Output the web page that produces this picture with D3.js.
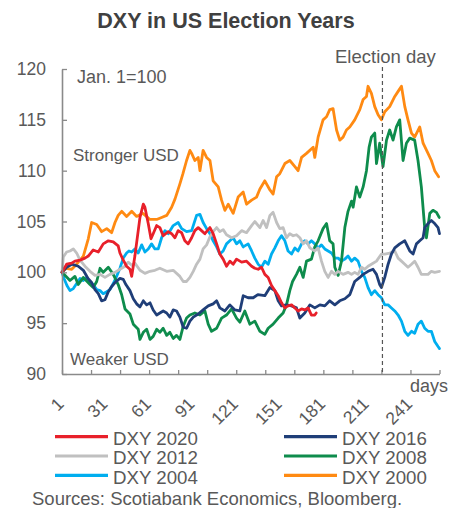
<!DOCTYPE html>
<html><head><meta charset="utf-8">
<script src="https://cdn.jsdelivr.net/npm/d3@7"></script>
<style>
html,body{margin:0;padding:0;background:#fff;}
svg{display:block;font-family:"Liberation Sans",Arial,sans-serif;}
</style></head>
<body><svg id="c" width="452" height="508"></svg>
<script>
// ---- data: [day of year index, DXY rebased to Jan.1 = 100] ----
const dxy2020 = [[1,100],[4.2,100.8],[7.7,100.9],[9.9,101.1],[13.4,101.2],[16.8,101.4],[19.1,101.6],[22.5,102.2],[26,102],[29.4,102.8],[32.9,103.1],[36.3,103],[39.7,102.6],[40.9,101.9],[43.2,101.2],[45.5,100.6],[47.8,100.3],[49,99.6],[51.2,101.6],[54.7,105.4],[57,106.7],[58.1,106.4],[60.4,104.8],[62.3,103.3],[63.8,103.8],[66.2,104.6],[68.4,104.4],[70.7,103.6],[74.2,104],[76.5,103.8],[78.8,103.4],[81,104.1],[83.4,103.9],[85.6,103.1],[87.9,102.8],[90.3,103.4],[92.5,104.1],[94.8,104.4],[97.1,104.1],[99.4,103.8],[102.9,104.4],[105.1,103.8],[107.5,102.8],[109.7,101.8],[112,101.3],[114.3,100.6],[116.6,101.1],[118.9,100.8],[121.2,101.3],[124.7,101],[128.1,101.1],[131.6,100.6],[133.8,100.4],[136.1,100.3],[138.4,100.5],[140.7,99.8],[143,99.5],[145.3,98.7],[147.6,98.2],[149.9,97.7],[152.2,97],[154.5,96.5],[156.7,96.7],[159.1,96.8],[161.4,96.5],[163.6,96.2],[166,96.4],[168.2,96.3],[170.5,96.5],[172.8,95.8],[175.1,95.8],[176.1,96]];
const dxy2016 = [[1,100],[4.2,100.5],[7.7,100.8],[12.2,100.6],[15.7,100.2],[18.9,99.4],[21.4,99],[23.7,98.3],[26,97.9],[28.3,97.2],[30.6,97.3],[32.9,98.1],[35.2,98.6],[37.5,99],[40.9,99.4],[43.2,99.3],[45,98.8],[47.8,98.2],[50.1,97.4],[52.4,96.9],[54.7,96.6],[57,97.2],[59.3,96.8],[61.6,97],[63.8,96.3],[66.2,95.8],[68.4,96],[70.7,96.2],[73.1,96],[75.3,95.6],[77.6,96.3],[79.9,96.2],[82.2,95.6],[84.5,94.6],[86.8,94.5],[89.1,95.2],[91.4,95.6],[94.8,95.9],[98.2,96.3],[101.7,96.7],[105.1,96.9],[107.5,97.2],[109.7,96.5],[113.2,96.2],[116.6,96.8],[120.1,96.3],[123.5,96.2],[125.8,97.7],[129.2,97.5],[132.7,97.5],[135.9,97.8],[140.7,97.7],[144.2,98.5],[147.6,98.2],[149.9,97.2],[152.2,96.7],[155.6,96.8],[159.1,96.7],[162.5,96.5],[164.8,95.5],[168.2,96],[171.7,96.8],[175.1,96.5],[178.6,96.8],[182,96.7],[185.4,97.2],[188.9,96.8],[192.3,97.2],[195.8,97.4],[199.2,97.8],[202.6,99.1],[206.1,99.5],[208.4,99.8],[211.8,100.1],[215.2,100.3],[217.6,99.8],[219.8,98.8],[221,98.5],[223.3,99.5],[225.6,100.8],[227.9,101.8],[230.2,102.4],[233.6,102.8],[237.1,103.1],[240.5,102.1],[242.8,101.8],[245.1,102.8],[247.4,103.1],[249.7,103.4],[250.8,104.4],[253.1,104.8],[255.4,105.1],[257.7,104.8],[260,104.4],[261,103.8]];
const dxy2012 = [[1,100],[1.9,101.5],[4.2,102],[6.5,102.1],[8.8,102.3],[11.1,101.9],[13.4,101.2],[16.8,100.6],[20.3,100.1],[23.7,99.7],[27.2,99.8],[30.6,99.5],[34,99.8],[37.5,100],[40.9,100.3],[44.4,100.6],[46.6,101],[49,100.7],[51.2,100.9],[54.7,100.2],[58.1,99.9],[61.6,100.1],[65,100.2],[68.4,100.4],[73.1,100.1],[77.6,100.2],[82.2,99.6],[84.5,99.1],[86.8,99.1],[89.1,99.5],[91.4,100.1],[93.7,100.8],[96,101.3],[98.2,102.3],[100.6,102.7],[102.9,103.5],[105.1,104],[107.5,104.4],[109.7,104],[112,104.2],[114.3,103.7],[117.8,103.4],[121.2,103.6],[124.7,104.1],[128.1,103.9],[131.6,104.6],[133.8,105],[137.3,104.4],[139.5,105.1],[141.9,104.4],[144.2,105.6],[146.4,105.9],[148.8,104.9],[151,104.3],[153.3,104.4],[155.6,103.4],[157.9,103.8],[160.2,103.6],[162.5,103.7],[164.8,103.4],[167.1,102.8],[169.4,103.1],[171.7,102.4],[175.1,102.1],[177.4,102.4],[179.7,101.1],[182,100.1],[184.3,99.5],[186.6,100.1],[188.9,99.8],[191.2,100.1],[194.6,99.8],[198,100],[200.4,99.8],[202.6,100],[204.9,99.8],[207.3,100.5],[209.5,100.3],[211.8,100.6],[214.1,100.8],[217.6,101.1],[221,101.8],[223.3,101.8],[226.7,101.9],[230.2,102.1],[232.5,101.4],[234.8,101.1],[237.1,100.8],[239.3,100.5],[241.7,100.8],[243.9,101.1],[246.2,100.5],[248.5,99.8],[250.8,99.8],[253.1,99.8],[255.4,100.1],[257.7,100],[261,100.1]];
const dxy2008 = [[1,100],[6.5,99.2],[9.9,99.6],[12.2,98.8],[15.7,99.5],[20.3,98.8],[22.5,98.5],[24.9,99.1],[27.2,100.4],[29.4,100],[32.9,100.5],[36.3,99.8],[39.7,98.8],[42.1,97.8],[44.4,96.4],[47.8,95.9],[50.1,94.9],[53.5,94.4],[54.7,93.4],[57,94.1],[59.3,94.4],[61.6,93.4],[63.8,93.7],[66.2,94.4],[68.4,94.1],[70.7,94.5],[73.1,93.8],[75.3,94.1],[77.6,93.5],[79.9,93.8],[82.2,93.4],[84.5,94.7],[86.8,95.5],[89.1,95.8],[92.5,96],[96,95.8],[99.4,96.2],[101.7,94.9],[104,94.2],[107.5,94.5],[110.9,95.5],[114.3,95.8],[117.8,96.4],[121.2,95.5],[123.5,95.1],[126.9,96.2],[130.4,94.9],[133.8,95.2],[137.3,94.2],[140.7,93.9],[143,94.5],[146.4,94.9],[149.9,95.5],[153.3,96],[155.6,96.8],[157.9,98.2],[159.8,99.1],[162.5,99.8],[164.8,100.5],[167.1,99.5],[169.4,101.1],[172.8,101.3],[175.1,102.5],[177.4,103.1],[180.8,104.3],[183.2,104.8],[185.4,103.1],[187.7,102.8],[188.9,100.5],[191.2,99.7],[193.5,101.1],[195.8,104.4],[198,106],[200.4,107],[201.5,106.4],[203.8,108.4],[206.1,107.4],[208.4,108.4],[210.7,110],[212.5,112.3],[214.1,113.3],[216.4,113.7],[217.6,110.7],[219.8,112.7],[222.1,110.4],[224.5,113],[226.7,114],[229,113],[231.3,114.3],[233.6,115],[235.9,111],[238.2,112.7],[240.5,113.2],[243.9,113],[246.2,111],[248.5,108.4],[250.8,104.4],[252,103.4],[254.3,105.8],[256.5,106.1],[258.9,105.9],[260.8,105.4]];
const dxy2004 = [[1,100],[2.4,99.4],[4.4,98.7],[6.5,98.2],[8.8,98.4],[11.1,98.9],[13.4,99.4],[15.7,99.2],[18,99.5],[20.3,99],[22.5,98.8],[24.9,98.3],[27.2,98.2],[29.4,97.9],[31.8,98.1],[34,98.3],[36.3,98.9],[38.6,99.6],[40.9,100.4],[43.2,101.4],[45.5,101.9],[47.1,102.1],[49,102],[51.2,102.3],[53.5,101.9],[55.9,102.7],[58.1,102],[60.4,102.3],[62.7,102.8],[65,102.3],[67.3,102.3],[69.6,103.4],[71.9,104.1],[74.2,103.8],[77.6,104.6],[81,104.9],[83.4,104.3],[86.8,104],[90.3,104.1],[93.7,105.6],[96,105.7],[98.2,104.9],[100.6,104.3],[102.9,103.8],[105.1,103.1],[107.5,102.5],[109.7,101.8],[112,102.1],[114.3,102.8],[116.6,103.1],[118.9,103.4],[121.2,102.8],[123.5,103.1],[125.8,102.5],[129.2,102.8],[131.6,102.1],[133.8,101.4],[136.1,100.8],[138.4,100.5],[140.7,101.1],[143,100.8],[145.3,101.8],[147.6,102.4],[149.9,103.1],[152.2,103.6],[154.5,103.1],[156.7,102.1],[159.1,101.8],[161.4,102.4],[163.6,102.1],[166,102.8],[168.2,103.1],[170.5,102.8],[172.8,103.1],[175.1,102.8],[177.4,102.4],[179.7,102.7],[182,102.3],[184.3,102.1],[186.6,101.9],[188.9,101.4],[191.2,101.4],[193.5,101.1],[195.8,101.3],[198,101.6],[200.4,101.1],[202.6,101.4],[204.9,101.1],[207.3,100.1],[209.5,99.5],[211.8,98.5],[214.1,97.8],[216.4,98.2],[218.7,97.8],[221,97.5],[223.3,96.8],[225.6,96.8],[227.9,96.5],[230.2,96.2],[232.5,95.8],[234.8,95.2],[237.1,94.2],[239.3,93.8],[241.7,94.2],[243.9,94],[246.2,94.9],[248.5,95.2],[250.8,94.5],[253.1,94.2],[255.4,94.2],[257.7,93.2],[260,92.7],[261,92.5]];
const dxy2000 = [[1,100],[3.8,100.4],[7.7,100.3],[11.1,100.8],[15.7,101.6],[19.1,103.3],[21.4,104.9],[24.9,104.7],[28.3,104],[31.8,104.3],[35.2,103.9],[37.5,104.9],[39.7,105.6],[42.1,106],[45.5,105.5],[49,106],[52.4,105.5],[56.7,105.8],[61.6,105.2],[66.2,105.2],[69.6,105.4],[73.1,105.6],[76.5,106.4],[78.8,107.2],[82.2,108.7],[84.3,109.7],[86.8,111],[89.1,112],[90.3,111.7],[92.5,111],[94.8,111.3],[96,110],[98.2,112],[100.6,111.3],[102.9,111],[105.1,109],[108.6,108.4],[110.9,107.1],[113.2,106.1],[115.5,106.7],[118.9,105.8],[122.3,107.4],[125.8,107.9],[128.1,106.7],[131.6,107.1],[135,107.4],[137.3,108.2],[140.7,109],[144.2,108.1],[146.4,107.7],[148.8,109.4],[151,109.7],[154.5,110.7],[157.9,111],[161.4,110.4],[163.6,110],[166,111.3],[169.4,111.7],[174,112.3],[175.1,111.3],[177.4,113.3],[180.8,115],[183.2,115.3],[185.4,116],[187.7,116.1],[190.1,114],[192.3,113],[194.6,113.3],[196.9,114],[199.2,114.3],[202.6,115],[206.1,116],[208.4,117],[210.7,117.3],[211.8,118.3],[214.1,117.6],[216.4,116.3],[218.7,115.5],[221,115],[223.3,115.8],[226.7,116.3],[230.2,117.3],[232.5,117.8],[234.8,118.3],[237.1,116.3],[239.3,115],[241.7,113.7],[243.9,113.3],[247.4,114.3],[249.7,112.7],[253.1,111.7],[255.4,111],[257.7,110],[260.4,109.4]];

const seriesNames = ["DXY 2020","DXY 2016","DXY 2012","DXY 2008","DXY 2004","DXY 2000"];
const seriesData  = [dxy2020, dxy2016, dxy2012, dxy2008, dxy2004, dxy2000];
const seriesColors = ["#e8202a","#1f3e78","#c0c0c0","#0e8c4c","#00aeef","#ff8a12"];
const yTicks = [90,95,100,105,110,115,120];
const xTickMarks = [1,21,41,61,81,101,121,141,161,181,201,221,241,261];
const xTickLabels = [1,31,61,91,121,151,181,211,241];
const electionDay = 221.7;

// ---- drawing ----
const svg = d3.select("#c");
const textCol = "#595959", axisCol = "#8a8a8a";
const x = d3.scaleLinear().domain([1,261]).range([62,439.5]);
const y = d3.scaleLinear().domain([90,120]).range([374,69]);

svg.append("text").attr("x",226).attr("y",28).attr("text-anchor","middle")
  .attr("font-size",21.5).attr("font-weight","bold").attr("fill","#404040")
  .text("DXY in US Election Years");

// lines (first series drawn last = on top)
const line = d3.line().x(d=>x(d[0])).y(d=>y(d[1]));
for (let i = seriesData.length-1; i >= 0; i--) {
  svg.append("path").datum(seriesData[i]).attr("d",line)
    .attr("fill","none").attr("stroke",seriesColors[i])
    .attr("stroke-width",2.8).attr("stroke-linejoin","round").attr("stroke-linecap","round");
}

// y axis
const gy = svg.append("g").attr("transform","translate(62,0)")
  .call(d3.axisLeft(y).tickValues(yTicks).tickSize(-5).tickSizeOuter(0).tickPadding(16));
// x axis
const gx = svg.append("g").attr("transform","translate(0,374)")
  .call(d3.axisBottom(x).tickValues(xTickMarks).tickSize(-4).tickSizeOuter(0).tickFormat(""));
[gy,gx].forEach(g=>{
  g.select(".domain").attr("stroke",axisCol).attr("stroke-width",1.6);
  g.selectAll(".tick line").attr("stroke",axisCol).attr("stroke-width",1.3);
});
gy.selectAll(".tick text").attr("font-size",17.5).attr("fill",textCol)
  .attr("font-family","'Liberation Sans',Arial,sans-serif");

// rotated x labels
svg.append("g").selectAll("text").data(xTickLabels).join("text")
  .attr("transform",d=>`translate(${x(d)+3},405) rotate(-45)`)
  .attr("text-anchor","end").attr("font-size",17.5).attr("fill",textCol)
  .text(d=>d);

svg.append("text").attr("x",448).attr("y",392).attr("text-anchor","end")
  .attr("font-size",18).attr("fill",textCol).text("days");

// election day
svg.append("line").attr("x1",x(electionDay)).attr("x2",x(electionDay))
  .attr("y1",67).attr("y2",374).attr("stroke","#555").attr("stroke-width",1.2)
  .attr("stroke-dasharray","4,3");
svg.append("text").attr("x",x(electionDay)+3).attr("y",63).attr("text-anchor","middle")
  .attr("font-size",18.5).attr("fill",textCol).text("Election day");

// annotations
svg.append("text").attr("x",77).attr("y",83).attr("font-size",18).attr("fill",textCol).text("Jan. 1=100");
svg.append("text").attr("x",73).attr("y",161).attr("font-size",17).attr("fill",textCol).text("Stronger USD");
svg.append("text").attr("x",70).attr("y",365).attr("font-size",17).attr("fill",textCol).text("Weaker USD");

// legend
const legX = [55,284], legY = [436.7,456,475.3];
seriesNames.forEach((n,i)=>{
  const cx = legX[i%2], cy = legY[Math.floor(i/2)];
  svg.append("line").attr("x1",cx).attr("x2",cx+53).attr("y1",cy).attr("y2",cy)
    .attr("stroke",seriesColors[i]).attr("stroke-width",3.2);
  svg.append("text").attr("x",cx+58).attr("y",cy+8.3).attr("font-size",18.7)
    .attr("fill",textCol).text(n);
});

svg.append("text").attr("x",32).attr("y",505).attr("font-size",18.5).attr("fill",textCol)
  .text("Sources: Scotiabank Economics, Bloomberg.");
</script></body></html>
